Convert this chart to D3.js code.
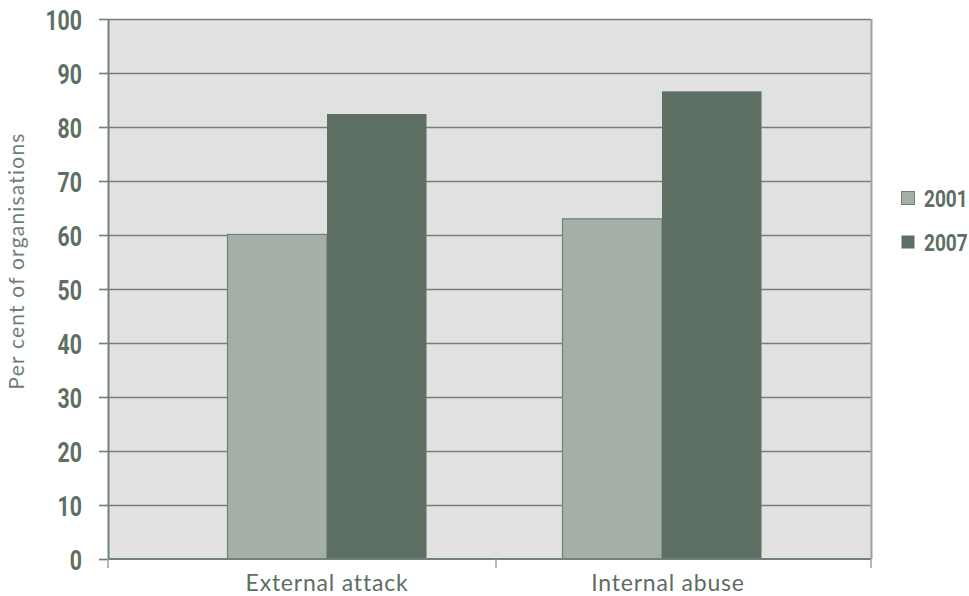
<!DOCTYPE html>
<html><head><meta charset="utf-8">
<script src="https://cdn.jsdelivr.net/npm/d3@7"></script>
<style>body{margin:0;background:#fff}</style>
</head><body>
<svg id="c" width="969" height="596"></svg>
<script>
const categories = ["External attack", "Internal abuse"];
const seriesNames = ["2001", "2007"];
const values2001 = [60.1, 63.0];
const values2007 = [82.4, 86.6];
const yTicks = [0,10,20,30,40,50,60,70,80,90,100];
const yLabel = "Per cent of organisations";

const colors = {"2001":"#a3afa7","2007":"#5d6e63"};
const valueTable = {"2001": values2001, "2007": values2007};

const svg = d3.select("#c");
const plot = {left:108, right:871, top:19, bottom:559};
const y = d3.scaleLinear().domain([0,100]).range([plot.bottom, plot.top]);
const x0 = d3.scaleBand().domain(categories).range([159.5, 829.5]);
const groupW = 199;
const x1 = d3.scaleBand().domain(seriesNames).range([0, groupW]);

const condFont = "Roboto, 'Liberation Sans', sans-serif";
const textFont = "Lato, 'Open Sans', sans-serif";

// plot background
svg.append("rect").attr("x",plot.left).attr("y",plot.top)
  .attr("width",plot.right-plot.left).attr("height",plot.bottom-plot.top)
  .attr("fill","#e0e1e0");

// gridlines
svg.append("g").selectAll("line").data(yTicks.filter(d=>d>0)).join("line")
  .attr("x1",plot.left).attr("x2",plot.right)
  .attr("y1",d=>Math.round(y(d))+0.5).attr("y2",d=>Math.round(y(d))+0.5)
  .attr("stroke","#71827a").attr("stroke-width",1.7);

// right border
svg.append("line").attr("x1",plot.right+0.5).attr("x2",plot.right+0.5)
  .attr("y1",plot.top).attr("y2",plot.bottom).attr("stroke","#9aa39e").attr("stroke-width",2);

// bars
const groups = svg.append("g").selectAll("g").data(categories).join("g")
  .attr("transform",d=>`translate(${x0(d)+(x0.bandwidth()-groupW)/2},0)`);
groups.selectAll("rect").data((c,i)=>seriesNames.map(s=>({s, v:valueTable[s][i]}))).join("rect")
  .attr("x",d=>x1(d.s)).attr("width",x1.bandwidth())
  .attr("y",d=>y(d.v)).attr("height",d=>y(0)-y(d.v))
  .attr("fill",d=>colors[d.s])
  .attr("stroke",d=>d.s==="2001"?"#6f8077":"none").attr("stroke-width",1.2);

// y axis
const yAxis = d3.axisLeft(y).tickValues(yTicks).tickSize(9).tickSizeOuter(0).tickPadding(17);
const ya = svg.append("g").attr("transform",`translate(${plot.left},0)`).call(yAxis);
ya.select(".domain").attr("stroke","#71827a").attr("stroke-width",2);
ya.selectAll(".tick line").attr("stroke","#71827a").attr("stroke-width",1.7);
const sx = 0.76;
ya.selectAll(".tick text").attr("fill","#5d6e63")
  .attr("x",-26/sx).attr("transform",`scale(${sx},1)`)
  .style("font-family",condFont)
  .style("font-weight","bold").style("font-size","28px").attr("dy","0.36em");

// x axis baseline and category boundary ticks
svg.append("line").attr("x1",plot.left).attr("x2",plot.right)
  .attr("y1",plot.bottom).attr("y2",plot.bottom).attr("stroke","#71827a").attr("stroke-width",2.2);
const boundaries = [plot.left, 496, plot.right];
svg.append("g").selectAll("line").data(boundaries).join("line")
  .attr("x1",d=>d).attr("x2",d=>d).attr("y1",plot.bottom).attr("y2",plot.bottom+9)
  .attr("stroke","#9aa39e").attr("stroke-width",1.5);

// category labels
svg.append("g").selectAll("text").data(categories).join("text")
  .attr("x",d=>x0(d)+x0.bandwidth()/2+ (d===categories[1]?6:0)).attr("y",591)
  .attr("text-anchor","middle").attr("fill","#5d6e63")
  .style("font-family",textFont).style("font-size","23px").style("letter-spacing","0.8px")
  .text(d=>d);

// y label
svg.append("text").attr("transform","translate(24,261) rotate(-90)")
  .attr("text-anchor","middle").attr("fill","#6e7f76")
  .style("font-family",textFont).style("font-size","21px").style("letter-spacing","1.2px")
  .text(yLabel);

// legend
const lg = svg.append("g").selectAll("g").data(seriesNames).join("g")
  .attr("transform",(d,i)=>`translate(901,${191+i*44})`);
lg.append("rect").attr("x",0.5).attr("y",0.5).attr("width",13).attr("height",13).attr("fill",d=>colors[d])
  .attr("stroke",d=>d==="2001"?"#6f8077":"none");
const lsx = 0.81;
lg.append("text").attr("x",23/lsx).attr("y",16.3).attr("fill","#5d6e63")
  .attr("transform",`scale(${lsx},1)`)
  .style("font-family",condFont)
  .style("font-weight","bold").style("font-size","23.5px").text(d=>d);
</script>
</body></html>
